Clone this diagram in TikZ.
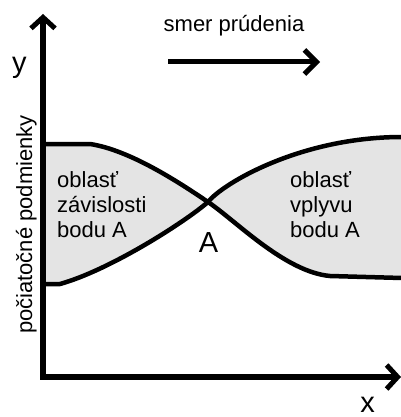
\documentclass[tikz,border=0pt]{standalone}
\usepackage{fontspec}
\setmainfont{Liberation Sans}
\usetikzlibrary{arrows.meta}
\definecolor{regiongray}{HTML}{E4E4E4}
\tikzset{
  axis/.style={line width=5.5pt, -{Straight Barb[length=11pt,width=24pt,line width=5pt]}},
  bound/.style={line width=4.5pt, line join=round, line cap=round},
  lbl/.style={font=\fontsize{22}{25}\selectfont, align=left, anchor=base west, inner sep=0pt},
  txt/.style={font=\fontsize{22}{25}\selectfont, inner sep=0pt, anchor=base},
  bigtxt/.style={font=\fontsize{29}{30}\selectfont, inner sep=0pt, anchor=base}
}
\begin{document}
\begin{tikzpicture}[x=1pt,y=-1pt]
\useasboundingbox (0,0) rectangle (400,417);
% coordinates
\coordinate (O) at (43,377);
\coordinate (Ytop) at (43,14);
\coordinate (Xend) at (401,377);
\coordinate (A) at (208,202);
\coordinate (TL0) at (43,144);
\coordinate (TL1) at (90,144);
\coordinate (BL0) at (43,284);
\coordinate (BL1) at (60,284);
\coordinate (TR) at (402,137);
\coordinate (BR1) at (330,276);
\coordinate (BR) at (402,278);
% fills
\fill[regiongray] (TL0) -- (TL1) .. controls (130,150) and (180,183) .. (A)
  .. controls (185,222) and (110,270) .. (BL1) -- (BL0) -- cycle;
\fill[regiongray] (A) .. controls (222,184) and (300,137) .. (TR) -- (BR) -- (BR1)
  .. controls (285,272) and (235,220) .. (A) -- cycle;
% boundaries
\draw[bound] (TL0) -- (TL1) .. controls (130,150) and (180,183) .. (A)
  .. controls (235,220) and (285,272) .. (BR1) -- (BR);
\draw[bound] (BL0) -- (BL1) .. controls (110,270) and (185,222) .. (A)
  .. controls (222,184) and (300,137) .. (TR);
% axes
\draw[axis] (O) -- (Ytop);
\draw[axis] ([xshift=-2.75pt]O) -- (Xend);
% flow arrow
\coordinate (F1) at (168,62);
\coordinate (F2) at (320,62);
\draw[line width=5pt, -{Straight Barb[length=12pt,width=24pt,line width=5pt]}] (F1) -- (F2);
% labels
\node[txt] (flow) at (234,32) {smer prúdenia};
\node[bigtxt] (ylab) at (19.5,73) {y};
\node[bigtxt] (xlab) at (367.5,412) {x};
\node[bigtxt] (Alab) at (208.5,252) {A};
\node[lbl] (left) at (57,237) {oblasť\\závislosti\\bodu A};
\node[lbl] (right) at (290,237) {oblasť\\vplyvu\\bodu A};
\node[txt, rotate=90] (pp) at (32,224.5) {počiatočné podmienky};
\end{tikzpicture}
\end{document}
